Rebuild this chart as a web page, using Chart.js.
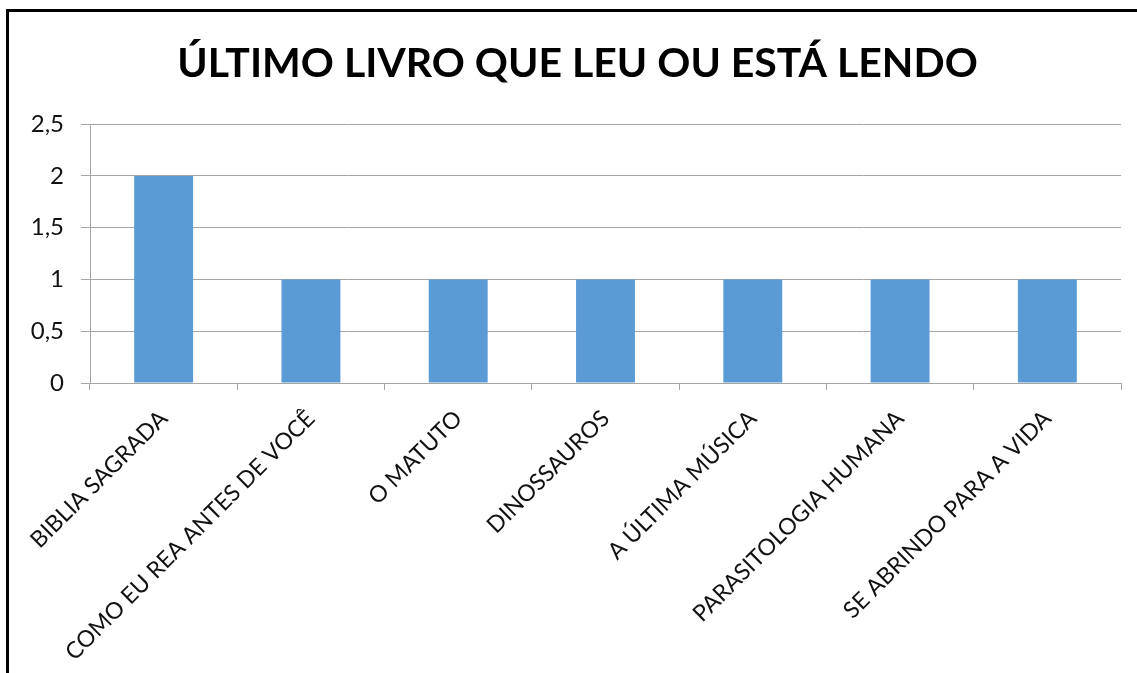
<!DOCTYPE html>
<html>
<head>
<meta charset="utf-8">
<script src="https://cdn.jsdelivr.net/npm/chart.js@4.4.1/dist/chart.umd.min.js"></script>
<style>
  body { margin: 0; background: #fff; }
  #wrap { position: relative; width: 1137px; height: 673px; overflow: hidden; }
  #frame { position: absolute; left: 6px; top: 9px; right: -10px; bottom: -10px;
           border-top: 3px solid #000; border-left: 3px solid #000; pointer-events: none; }
</style>
</head>
<body>
<div id="wrap">
  <canvas id="myChart" width="1137" height="673"></canvas>
  <div id="frame"></div>
</div>
<script>
var livros = ["BIBLIA SAGRADA", "COMO EU REA ANTES DE VOCÊ", "O MATUTO", "DINOSSAUROS",
              "A ÚLTIMA MÚSICA", "PARASITOLOGIA HUMANA", "SE ABRINDO PARA A VIDA"];
var quantidade = [2, 1, 1, 1, 1, 1, 1];
var yMax = 2.5;
var yStep = 0.5;

var corBarra = '#5B9BD5';
var corGrade = '#a6a6a6';

// o titulo fica um pouco a direita do centro do quadro
var moveTitulo = {
    id: 'moveTitulo',
    afterLayout: function(chart) {
        chart.titleBlock.left += 7;
        chart.titleBlock.right += 7;
    }
};

let myChart = new Chart("myChart", {
    type: "bar",
    data: {
        labels: livros,
        datasets: [{
            backgroundColor: corBarra,
            data: quantidade,
            barPercentage: 0.4,
            categoryPercentage: 1
        }]
    },
    options: {
        responsive: false,
        animation: false,
        layout: { padding: { left: 20, right: 16, top: 0, bottom: 0 } },
        plugins: {
            legend: { display: false },
            tooltip: { enabled: false },
            title: {
                display: true,
                text: "ÚLTIMO LIVRO QUE LEU OU ESTÁ LENDO",
                color: '#000',
                font: { family: 'Lato', size: 41, weight: 'bold' },
                padding: { top: 39, bottom: 36 }
            }
        },
        scales: {
            x: {
                grid: { drawOnChartArea: false, color: corGrade, tickLength: 7 },
                border: { color: corGrade },
                ticks: {
                    color: '#111',
                    font: { family: 'Lato', size: 23 },
                    maxRotation: 45, minRotation: 45,
                    padding: 15
                },
                afterFit: function(scale) { scale.height = 290; }
            },
            y: {
                min: 0, max: yMax,
                grid: { color: corGrade, tickLength: 9 },
                border: { color: corGrade },
                ticks: {
                    stepSize: yStep,
                    color: '#111',
                    font: { family: 'Lato', size: 24 },
                    padding: 17,
                    callback: function(v) { return String(v).replace('.', ','); }
                },
                afterFit: function(scale) { scale.width = 70; }
            }
        }
    },
    plugins: [moveTitulo]
});
</script>
</body>
</html>
